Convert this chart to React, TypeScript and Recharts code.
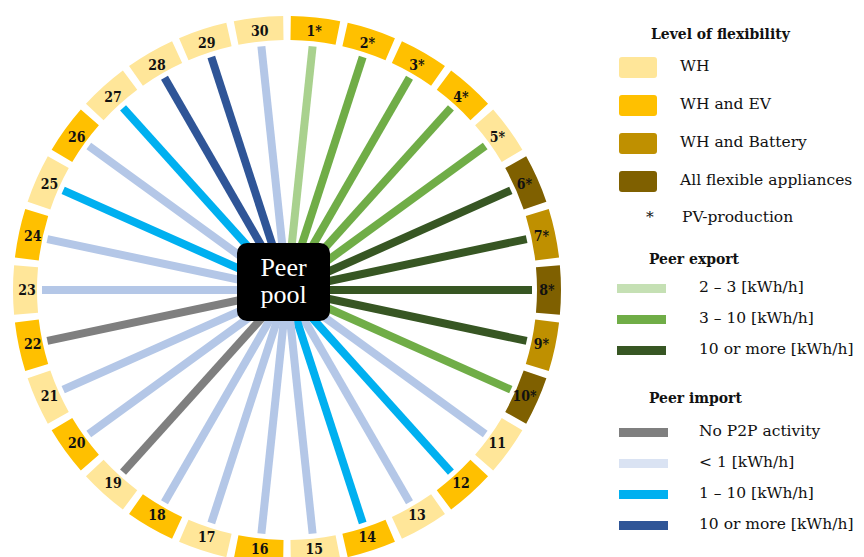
import { PieChart, Pie, Cell } from 'recharts';

// households around the ring, clockwise from the top
const households = [
  '1*', '2*', '3*', '4*', '5*', '6*', '7*', '8*', '9*', '10*',
  '11', '12', '13', '14', '15', '16', '17', '18', '19', '20',
  '21', '22', '23', '24', '25', '26', '27', '28', '29', '30',
];

// level of flexibility per household
const flexLevel = [
  'WH and EV', 'WH and EV', 'WH and EV', 'WH and EV', 'WH', 'All flexible appliances', 'WH and Battery', 'All flexible appliances', 'WH and Battery', 'All flexible appliances',
  'WH', 'WH and EV', 'WH', 'WH and EV', 'WH', 'WH and EV', 'WH', 'WH and EV', 'WH', 'WH and EV',
  'WH', 'WH and EV', 'WH', 'WH and EV', 'WH', 'WH and EV', 'WH', 'WH', 'WH', 'WH',
];

// P2P flow class per household
const flowClass = [
  'exp 2-3', 'exp 3-10', 'exp 3-10', 'exp 3-10', 'exp 3-10', 'exp 10+', 'exp 10+', 'exp 10+', 'exp 10+', 'exp 3-10',
  'imp <1', 'imp 1-10', 'imp <1', 'imp 1-10', 'imp <1', 'imp <1', 'imp <1', 'imp <1', 'none', 'imp <1',
  'imp <1', 'none', 'imp <1', 'imp <1', 'imp 1-10', 'imp <1', 'imp 1-10', 'imp 10+', 'imp 10+', 'imp <1',
];

const flexColors: Record<string, string> = {
  'WH': '#ffe699',
  'WH and EV': '#ffc000',
  'WH and Battery': '#bf9000',
  'All flexible appliances': '#7f6000',
};

const flowColors: Record<string, string> = {
  'exp 2-3': '#a9d18e',
  'exp 3-10': '#70ad47',
  'exp 10+': '#375623',
  'none': '#7f7f7f',
  'imp <1': '#b4c7e7',
  'imp 1-10': '#00b0f0',
  'imp 10+': '#2f5597',
};

const exportLegend = [
  { label: '2 – 3 [kWh/h]', color: '#c5e0b4' },
  { label: '3 – 10 [kWh/h]', color: '#70ad47' },
  { label: '10 or more [kWh/h]', color: '#375623' },
];
const importLegend = [
  { label: 'No P2P activity', color: '#7f7f7f' },
  { label: '< 1 [kWh/h]', color: '#dae3f3' },
  { label: '1 – 10 [kWh/h]', color: '#00b0f0' },
  { label: '10 or more [kWh/h]', color: '#2f5597' },
];
const flexLegend = ['WH', 'WH and EV', 'WH and Battery', 'All flexible appliances'];

const RAD = Math.PI / 180;
const CX = 282;
const CY = 285;
const PAD = 1.6;

const data = households.map((name, i) => ({ name, value: 1, flex: flexLevel[i], flow: flowClass[i] }));

const font = '"DejaVu Serif", serif';
const condensed = '"DejaVu Serif Condensed", "DejaVu Serif", serif';

function ringLabel(props: any) {
  const { cx, cy, midAngle, payload } = props;
  const r = 260;
  const x = cx + r * Math.cos(-midAngle * RAD);
  const y = cy + r * Math.sin(-midAngle * RAD);
  return (
    <text x={x} y={y} textAnchor="middle" dominantBaseline="central" fontSize={14} fontWeight="bold" fill="#111" fontFamily={condensed}>
      {payload.name}
    </text>
  );
}

function spoke(props: any) {
  const { cx, cy, midAngle, outerRadius, payload } = props;
  const x = cx + outerRadius * Math.cos(-midAngle * RAD);
  const y = cy + outerRadius * Math.sin(-midAngle * RAD);
  return <line x1={cx} y1={cy} x2={x} y2={y} stroke={flowColors[payload.flow]} strokeWidth={8} />;
}

export default function App() {
  return (
    <div style={{ position: 'absolute', left: 0, top: 0, width: 864, height: 557, overflow: 'hidden', background: '#fff', fontFamily: font, color: '#111' }}>
      <PieChart width={864} height={557} style={{ position: 'absolute', left: 0, top: 0 }}>
        <Pie data={data} dataKey="value" cx={CX} cy={CY} innerRadius={250} outerRadius={274}
          startAngle={90 - PAD / 2} endAngle={90 - PAD / 2 - 360} paddingAngle={PAD}
          stroke="none" label={ringLabel} labelLine={false} isAnimationActive={false}>
          {data.map((d, i) => <Cell key={i} fill={flexColors[d.flex]} />)}
        </Pie>
        <Pie data={data} dataKey="value" cx={CX} cy={CY} innerRadius={0} outerRadius={245}
          startAngle={90} endAngle={-270} fill="none" stroke="none"
          label={spoke} labelLine={false} isAnimationActive={false} />
      </PieChart>

      <div style={{ position: 'absolute', left: 237, top: 243, width: 93, height: 78, background: '#000', borderRadius: 10, color: '#fff', fontFamily: '"Liberation Serif", serif', fontSize: 26, lineHeight: '27px', textAlign: 'center', paddingTop: 11, boxSizing: 'border-box' }}>
        Peer<br />pool
      </div>

      <div style={{ position: 'absolute', left: 0, top: 0, fontSize: 15.5 }}>
        <div style={{ position: 'absolute', left: 651, top: 24, fontWeight: 'bold', fontFamily: condensed, whiteSpace: 'nowrap' }}>Level of flexibility</div>
        {flexLegend.map((f, i) => (
          <div key={f}>
            <div style={{ position: 'absolute', left: 619, top: 57 + i * 38, width: 38, height: 21, borderRadius: 3, background: flexColors[f] }} />
            <div style={{ position: 'absolute', left: 680, top: 57 + i * 38, whiteSpace: 'nowrap' }}>{f}</div>
          </div>
        ))}
        <div style={{ position: 'absolute', left: 646, top: 208 }}>*</div>
        <div style={{ position: 'absolute', left: 682, top: 208, whiteSpace: 'nowrap' }}>PV-production</div>

        <div style={{ position: 'absolute', left: 649, top: 249, fontWeight: 'bold', fontFamily: condensed, whiteSpace: 'nowrap' }}>Peer export</div>
        {exportLegend.map((e, i) => (
          <div key={e.label}>
            <div style={{ position: 'absolute', left: 617, top: 284 + i * 31, width: 49, height: 9, background: e.color }} />
            <div style={{ position: 'absolute', left: 699, top: 278 + i * 31, whiteSpace: 'nowrap' }}>{e.label}</div>
          </div>
        ))}

        <div style={{ position: 'absolute', left: 649, top: 388, fontWeight: 'bold', fontFamily: condensed, whiteSpace: 'nowrap' }}>Peer import</div>
        {importLegend.map((e, i) => (
          <div key={e.label}>
            <div style={{ position: 'absolute', left: 619, top: 428 + i * 31, width: 49, height: 9, background: e.color }} />
            <div style={{ position: 'absolute', left: 699, top: 422 + i * 31, whiteSpace: 'nowrap' }}>{e.label}</div>
          </div>
        ))}
      </div>
    </div>
  );
}
